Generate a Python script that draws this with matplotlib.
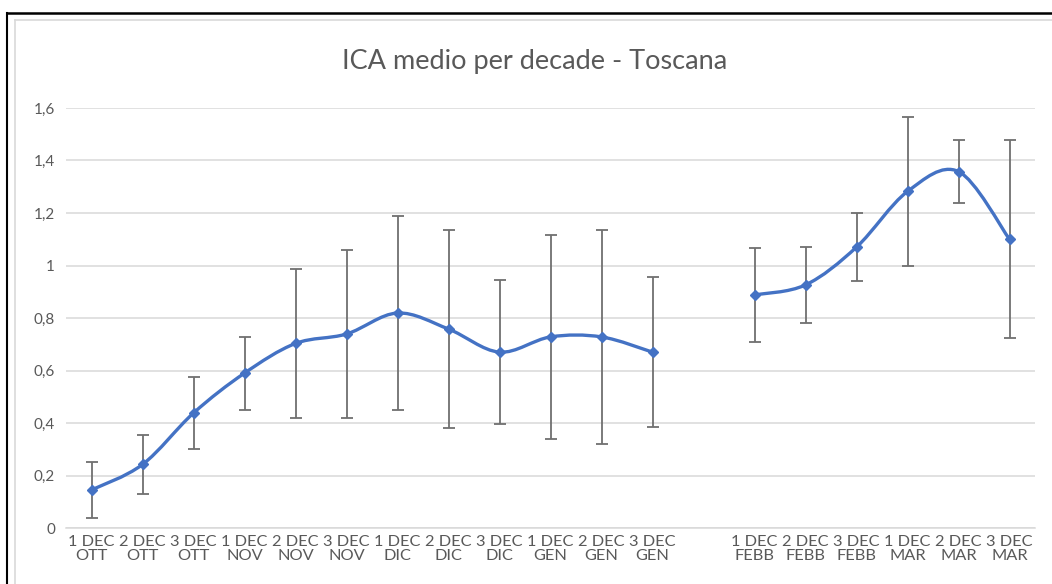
import matplotlib as mpl
import matplotlib.pyplot as plt
import numpy as np
from matplotlib.path import Path
from matplotlib.patches import PathPatch
from matplotlib.lines import Line2D

labels = ['1 DEC\nOTT', '2 DEC\nOTT', '3 DEC\nOTT',
          '1 DEC\nNOV', '2 DEC\nNOV', '3 DEC\nNOV',
          '1 DEC\nDIC', '2 DEC\nDIC', '3 DEC\nDIC',
          '1 DEC\nGEN', '2 DEC\nGEN', '3 DEC\nGEN',
          '',
          '1 DEC\nFEBB', '2 DEC\nFEBB', '3 DEC\nFEBB',
          '1 DEC\nMAR', '2 DEC\nMAR', '3 DEC\nMAR']
ica = [0.145, 0.242, 0.438, 0.59, 0.703, 0.739, 0.819, 0.758, 0.670, 0.728, 0.728, 0.670,
       np.nan, 0.888, 0.926, 1.07, 1.282, 1.358, 1.10]
err = [0.105, 0.112, 0.137, 0.139, 0.284, 0.32, 0.37, 0.377, 0.275, 0.388, 0.407, 0.286,
       np.nan, 0.179, 0.145, 0.13, 0.284, 0.12, 0.378]

blue = '#4472C4'
grey_txt = '#595959'

plt.rcParams['font.family'] = ['Lato', 'DejaVu Sans']


def smooth_path(xs, ys):
    # excel-like smoothed line: bezier segments, catmull-rom control points
    pts = np.column_stack([xs, ys])
    verts = [pts[0]]
    codes = [Path.MOVETO]
    n = len(pts)
    for i in range(n - 1):
        p0 = pts[max(i - 1, 0)]
        p1 = pts[i]
        p2 = pts[i + 1]
        p3 = pts[min(i + 2, n - 1)]
        verts += [p1 + (p2 - p0) / 6.0, p2 - (p3 - p1) / 6.0, p2]
        codes += [Path.CURVE4] * 3
    return Path(verts, codes)


fig = plt.figure(figsize=(10.52, 5.84), dpi=100)
ax = fig.add_axes([66 / 1052, 1 - 528 / 584, (1035 - 66) / 1052, (528 - 108) / 584])

x = np.arange(len(labels))
y = np.array(ica)
e = np.array(err)

ax.errorbar(x, y, yerr=e, fmt='none', ecolor='#707070', elinewidth=1.3,
            capsize=4.5, capthick=1.3, zorder=2)

# two segments, gap at the empty category
ok = ~np.isnan(y)
start = None
for i in range(len(y) + 1):
    if i < len(y) and ok[i]:
        if start is None:
            start = i
    elif start is not None:
        seg = slice(start, i)
        ax.add_patch(PathPatch(smooth_path(x[seg], y[seg]), fill=False,
                               edgecolor=blue, linewidth=2.4, zorder=3,
                               capstyle='round'))
        start = None

ax.plot(x, y, linestyle='none', marker='D', markersize=5.5, color=blue, zorder=4)

ax.set_xlim(-0.5, len(labels) - 0.5)
ax.set_ylim(0, 1.6)
ax.set_yticks(np.arange(0, 1.61, 0.2))
ax.set_yticklabels(['0', '0,2', '0,4', '0,6', '0,8', '1', '1,2', '1,4', '1,6'])
ax.set_xticks(x)
ax.set_xticklabels(labels, linespacing=1.05)
ax.tick_params(axis='both', length=0, colors=grey_txt)
ax.tick_params(axis='x', pad=5, labelsize=11.8)
ax.tick_params(axis='y', pad=8, labelsize=11)
ax.grid(axis='y', color='#d9d9d9', linewidth=1.1)
ax.set_axisbelow(True)
for s in ['top', 'right', 'left']:
    ax.spines[s].set_visible(False)
ax.spines['bottom'].set_color('#d9d9d9')
ax.spines['bottom'].set_linewidth(1.1)

fig.text(535 / 1052, 1 - 61 / 584, 'ICA medio per decade - Toscana', ha='center',
         va='center', fontsize=19.5, color=grey_txt)

# outer frames (cut off at right and bottom like the screenshot)
fig.add_artist(Line2D([6.5 / 1052, 6.5 / 1052], [0, 1 - 12.5 / 584], color='black', linewidth=1.5))
fig.add_artist(Line2D([6.5 / 1052, 1], [1 - 12.5 / 584, 1 - 12.5 / 584], color='black', linewidth=1.8))
fig.add_artist(Line2D([14.5 / 1052, 14.5 / 1052], [0, 1 - 19.5 / 584], color='#d9d9d9', linewidth=1.2))
fig.add_artist(Line2D([14.5 / 1052, 1], [1 - 19.5 / 584, 1 - 19.5 / 584], color='#d9d9d9', linewidth=1.2))

fig.savefig('out.png', dpi=100)
